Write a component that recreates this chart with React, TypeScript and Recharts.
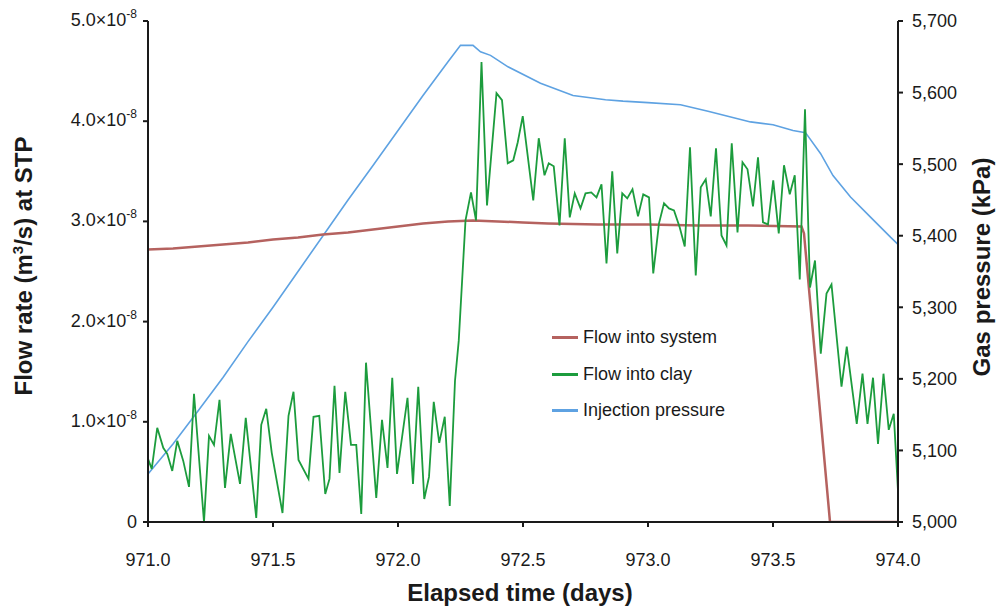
import React from "react";
import { ComposedChart, Line, XAxis, YAxis, Legend } from "recharts";

// elapsed time (days) and flow into clay (x 10^-8 m3/s)
const clayTime = [
  971.0, 971.015, 971.037, 971.061, 971.077, 971.097, 971.117, 971.141, 971.164, 971.184,
  971.224, 971.244, 971.264, 971.286, 971.308, 971.331, 971.368, 971.391, 971.433, 971.453,
  971.473, 971.495, 971.538, 971.562, 971.582, 971.602, 971.642, 971.662, 971.685, 971.709,
  971.726, 971.746, 971.766, 971.789, 971.812, 971.833, 971.853, 971.872, 971.913, 971.936,
  971.958, 971.977, 971.996, 972.038, 972.06, 972.081, 972.105, 972.124, 972.143, 972.165,
  972.187, 972.207, 972.228, 972.243, 972.27, 972.292, 972.312, 972.334, 972.356, 972.394,
  972.416, 972.439, 972.461, 972.479, 972.499, 972.541, 972.563, 972.586, 972.603, 972.623,
  972.646, 972.667, 972.687, 972.707, 972.73, 972.75, 972.773, 972.794, 972.814, 972.834,
  972.857, 972.877, 972.897, 972.917, 972.938, 972.96, 972.981, 973.004, 973.021, 973.044,
  973.064, 973.084, 973.104, 973.127, 973.147, 973.168, 973.191, 973.211, 973.231, 973.251,
  973.272, 973.294, 973.314, 973.335, 973.358, 973.378, 973.398, 973.42, 973.44, 973.46,
  973.48, 973.501, 973.523, 973.544, 973.567, 973.587, 973.607, 973.628, 973.648, 973.668,
  973.691, 973.714, 973.734, 973.774, 973.795, 973.835, 973.858, 973.878, 973.9, 973.92,
  973.942, 973.963, 973.983, 974.0,
];
const clayFlow = [
  0.63, 0.53, 0.94, 0.74, 0.68, 0.51, 0.81, 0.61, 0.35, 1.28,
  0.0, 0.86, 0.77, 1.22, 0.34, 0.88, 0.38, 1.04, 0.04, 0.97,
  1.13, 0.69, 0.09, 1.06, 1.3, 0.62, 0.43, 1.05, 1.06, 0.28,
  0.43, 1.36, 0.49, 1.3, 0.77, 0.77, 0.08, 1.59, 0.24, 1.02,
  0.54, 1.44, 0.48, 1.24, 0.38, 1.35, 0.23, 0.45, 1.2, 0.79,
  1.05, 0.16, 1.41, 1.81, 3.01, 3.29, 3.01, 4.59, 3.16, 4.28,
  4.21, 3.58, 3.61, 3.79, 4.05, 3.21, 3.83, 3.46, 3.58, 3.55,
  2.96, 3.83, 3.04, 3.28, 3.13, 3.28, 3.29, 3.24, 3.37, 2.58,
  3.5, 2.68, 3.28, 3.23, 3.32, 3.05, 3.27, 3.24, 2.48, 2.98,
  3.18, 3.13, 3.11, 2.94, 2.75, 3.74, 2.46, 3.34, 3.42, 3.05,
  3.73, 2.86, 2.76, 3.78, 2.89, 3.59, 3.52, 3.15, 3.64, 2.99,
  2.97, 3.41, 2.88, 3.56, 3.27, 3.46, 2.42, 4.12, 2.34, 2.61,
  1.68, 2.28, 2.37, 1.35, 1.75, 0.98, 1.48, 0.98, 1.44, 0.78,
  1.48, 0.92, 1.08, 0.31,
];

// flow into system (x 10^-8 m3/s)
const systemTime = [
  971.0, 971.1, 971.2, 971.3, 971.4, 971.5, 971.6, 971.7, 971.8, 971.9,
  972.0, 972.1, 972.2, 972.3, 972.4, 972.5, 972.6, 972.8, 973.0, 973.2,
  973.4, 973.614, 973.624, 973.728, 974.0,
];
const systemFlow = [
  2.72, 2.73, 2.75, 2.77, 2.79, 2.82, 2.84, 2.87, 2.89, 2.92,
  2.95, 2.98, 3.0, 3.01, 3.0, 2.99, 2.98, 2.97, 2.97, 2.96,
  2.96, 2.95, 2.88, 0, 0,
];

// injection pressure (kPa)
const pressureTime = [
  971.0, 971.1, 971.2, 971.3, 971.4, 971.5, 971.6, 971.7, 971.8, 971.9,
  972.0, 972.1, 972.2, 972.25, 972.3, 972.33, 972.37, 972.44, 972.57, 972.7,
  972.83, 972.9, 973.0, 973.13, 973.24, 973.41, 973.5, 973.58, 973.63, 973.69,
  973.74, 973.81, 973.89, 973.97, 974.0,
];
const pressure = [
  5067, 5109, 5155, 5202, 5252, 5300, 5350, 5400, 5450, 5498,
  5547, 5596, 5643, 5666, 5666, 5657, 5652, 5636, 5613, 5596,
  5590, 5588, 5586, 5583, 5574, 5559, 5555, 5547, 5544, 5515,
  5484, 5454, 5426, 5398, 5388,
];

const timeTicks = [971.0, 971.5, 972.0, 972.5, 973.0, 973.5, 974.0];
const flowTicks = [0, 1, 2, 3, 4, 5];
const pressureTicks = [5000, 5100, 5200, 5300, 5400, 5500, 5600, 5700];

const legendItems = [
  { name: "Flow into system", color: "#b5625f" },
  { name: "Flow into clay", color: "#1c9c3d" },
  { name: "Injection pressure", color: "#5ea2e2" },
];

const clayData = clayTime.map((t, i) => ({ t, v: clayFlow[i] }));
const systemData = systemTime.map((t, i) => ({ t, v: systemFlow[i] }));
const pressureData = pressureTime.map((t, i) => ({ t, p: pressure[i] }));

const FONT = "Arial, 'Liberation Sans', sans-serif";
const INK = "#1a1a1a";

function FlowTick({ x, y, payload }: any) {
  const v = payload.value;
  if (v === 0) {
    return (
      <text x={x} y={y + 6} textAnchor="end" fontSize={18} fill={INK} fontFamily={FONT}>
        0
      </text>
    );
  }
  return (
    <text x={x} y={y + 5} textAnchor="end" fontSize={18} fill={INK} fontFamily={FONT}>
      <tspan>{v.toFixed(1)}×10</tspan>
      <tspan fontSize={12} dy={-8}>-8</tspan>
    </text>
  );
}

function renderLegend() {
  return (
    <div style={{ fontFamily: FONT, fontSize: 18, color: INK }}>
      {legendItems.map((item) => (
        <div key={item.name} style={{ display: "flex", alignItems: "center", height: 36.7 }}>
          <div style={{ width: 26, height: 3, background: item.color, marginRight: 5 }} />
          <span>{item.name}</span>
        </div>
      ))}
    </div>
  );
}

export default function App() {
  return (
    <div style={{ position: "absolute", left: 0, top: 0, width: 1000, height: 612, background: "#fff" }}>
      <ComposedChart width={1000} height={612} margin={{ top: 21, right: 0, bottom: 0, left: 0 }}>
        <XAxis
          dataKey="t"
          type="number"
          domain={[971, 974]}
          ticks={timeTicks}
          tickFormatter={(v: number) => v.toFixed(1)}
          height={90}
          allowDataOverflow
          axisLine={{ stroke: INK, strokeWidth: 2 }}
          tickLine={{ stroke: INK, strokeWidth: 2 }}
          tickSize={5}
          tickMargin={26}
          tick={{ fontSize: 18, fill: INK, fontFamily: FONT }}
        />
        <YAxis
          yAxisId="flow"
          width={148}
          domain={[0, 5]}
          ticks={flowTicks}
          allowDataOverflow
          axisLine={{ stroke: INK, strokeWidth: 2 }}
          tickLine={{ stroke: INK, strokeWidth: 2 }}
          tickSize={5}
          tickMargin={6}
          tick={<FlowTick />}
        />
        <YAxis
          yAxisId="pressure"
          orientation="right"
          width={102}
          domain={[5000, 5700]}
          ticks={pressureTicks}
          allowDataOverflow
          axisLine={{ stroke: INK, strokeWidth: 2 }}
          tickLine={{ stroke: INK, strokeWidth: 2 }}
          tickSize={5}
          tickMargin={9}
          tickFormatter={(v: number) => v.toLocaleString("en-US")}
          tick={{ fontSize: 18, fill: INK, fontFamily: FONT, textAnchor: "start" }}
        />
        <Legend
          content={renderLegend}
          layout="vertical"
          align="center"
          verticalAlign="middle"
          wrapperStyle={{ position: "absolute", left: 552, top: 319, width: 220, height: 110 }}
        />
        <Line
          yAxisId="pressure"
          data={pressureData}
          dataKey="p"
          name="Injection pressure"
          type="linear"
          stroke="#5ea2e2"
          strokeWidth={1.6}
          dot={false}
          isAnimationActive={false}
        />
        <Line
          yAxisId="flow"
          data={systemData}
          dataKey="v"
          name="Flow into system"
          type="linear"
          stroke="#b5625f"
          strokeWidth={2.5}
          dot={false}
          isAnimationActive={false}
        />
        <Line
          yAxisId="flow"
          data={clayData}
          dataKey="v"
          name="Flow into clay"
          type="linear"
          stroke="#1c9c3d"
          strokeWidth={1.8}
          dot={false}
          isAnimationActive={false}
        />
      </ComposedChart>
      <svg
        width={1000}
        height={612}
        style={{ position: "absolute", left: 0, top: 0, pointerEvents: "none" }}
      >
        <text x={520} y={601} textAnchor="middle" fontSize={24} fontWeight="bold" fill={INK} fontFamily={FONT}>
          Elapsed time (days)
        </text>
        <text
          transform="translate(32, 266) rotate(-90)"
          textAnchor="middle"
          fontSize={24}
          fontWeight="bold"
          fill={INK}
          fontFamily={FONT}
        >
          <tspan>Flow rate (m</tspan>
          <tspan fontSize={15} dy={-9}>3</tspan>
          <tspan dy={9}>/s) at STP</tspan>
        </text>
        <text
          transform="translate(990, 267) rotate(-90)"
          textAnchor="middle"
          fontSize={24}
          fontWeight="bold"
          fill={INK}
          fontFamily={FONT}
        >
          Gas pressure (kPa)
        </text>
      </svg>
    </div>
  );
}
